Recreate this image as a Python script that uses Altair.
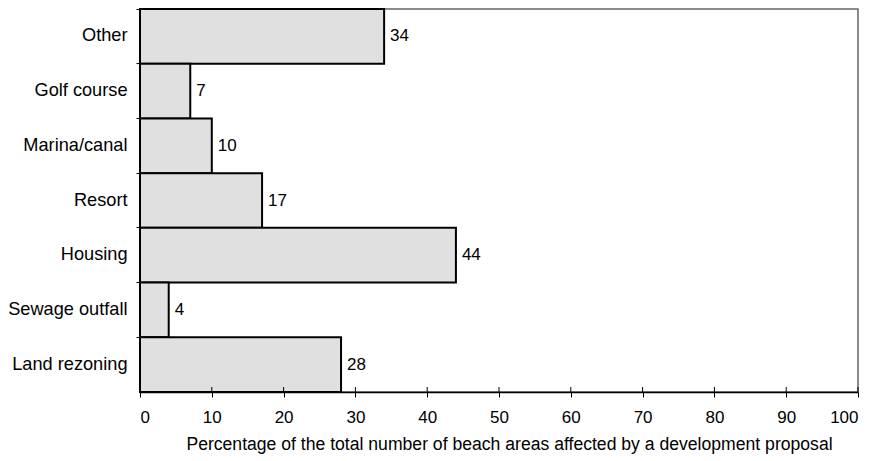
import altair as alt
import pandas as pd

categories = ["Other", "Golf course", "Marina/canal", "Resort", "Housing", "Sewage outfall", "Land rezoning"]
values = [34, 7, 10, 17, 44, 4, 28]
x_ticks = [0, 10, 20, 30, 40, 50, 60, 70, 80, 90, 100]

df = pd.DataFrame({"cat": categories, "val": values})
tick_df = pd.DataFrame({"t": x_ticks})

FONT = "Liberation Sans"

y = alt.Y("cat:N", sort=categories, title=None,
          scale=alt.Scale(paddingInner=0, paddingOuter=0),
          axis=alt.Axis(labelFont=FONT, labelFontSize=18.2, labelColor="black",
                        labelPadding=9, tickSize=4, tickColor="black", tickWidth=1,
                        bandPosition=0, domainColor="black", domainWidth=2))
x = alt.X("val:Q", title="Percentage of the total number of beach areas affected by a development proposal",
          scale=alt.Scale(domain=[0, 100], nice=False),
          axis=alt.Axis(values=x_ticks, labelFont=FONT, labelFontSize=17,
                        labelColor="black", labelPadding=12, tickSize=5, tickColor="black",
                        domainColor="black", domainWidth=1.5, grid=False,
                        titleFont=FONT, titleFontSize=17.6, titleFontWeight="normal",
                        titleColor="black", titlePadding=10, titleX=369, titleAnchor="middle"))

bars = alt.Chart(df).mark_bar(fill="#e0e0e0", stroke="black", strokeWidth=2, opacity=1).encode(x=x, y=y)
labels = alt.Chart(df).mark_text(align="left", baseline="middle", dx=6, font=FONT, fontSize=17,
                                 color="black").encode(x=x, y=y, text="val:Q")
inner_ticks = alt.Chart(tick_df).mark_rule(color="black", strokeWidth=1).encode(
    x=alt.X("t:Q", scale=alt.Scale(domain=[0, 100], nice=False)),
    y=alt.value(378), y2=alt.value(383))

chart = (bars + labels + inner_ticks).properties(width=718, height=383).configure_view(
    stroke="#666666", strokeWidth=1.5
).properties(
    autosize=alt.AutoSizeParams(type="none"),
    padding={"left": 132, "top": 1, "right": 9, "bottom": 68}
)

chart.save("out.html", embed_options={"renderer": "svg", "actions": False})
